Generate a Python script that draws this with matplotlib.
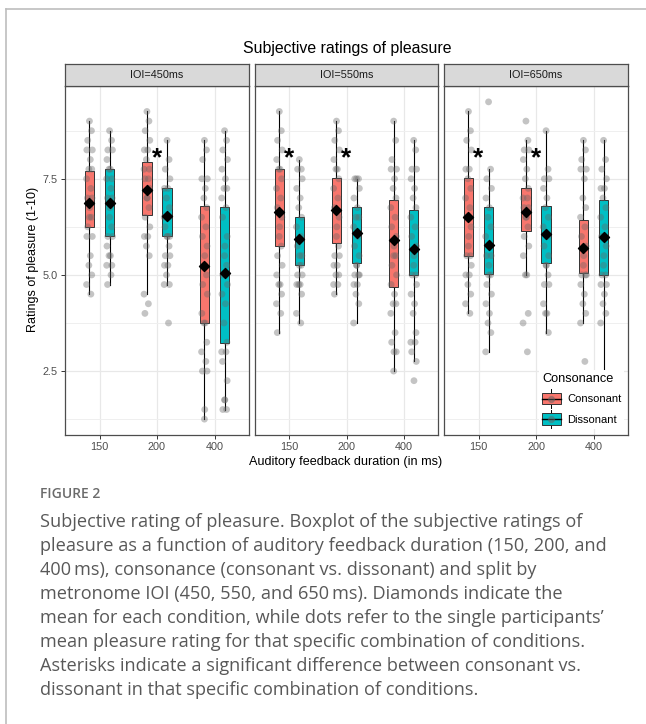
import numpy as np
import matplotlib.pyplot as plt
from matplotlib.patches import Rectangle
from matplotlib.lines import Line2D
from matplotlib.legend_handler import HandlerBase

plt.rcParams['font.family'] = ['Liberation Sans', 'DejaVu Sans']

panel_titles = ['IOI=450ms', 'IOI=550ms', 'IOI=650ms']
durations = ['150', '200', '400']
conditions = ['Consonant', 'Dissonant']
cond_colors = ['#F8766D', '#00BFC4']

# order in each panel: 150 cons, 150 diss, 200 cons, 200 diss, 400 cons, 400 diss
box_q1 = [
    [6.25, 6.00, 6.57, 6.00, 3.74, 3.22],
    [5.76, 5.25, 5.82, 5.31, 4.68, 5.00],
    [5.50, 5.03, 6.14, 5.32, 5.04, 5.00],
]
box_q3 = [
    [7.70, 7.76, 7.94, 7.26, 6.78, 6.76],
    [7.76, 6.50, 7.51, 6.76, 6.94, 6.69],
    [7.51, 6.76, 7.27, 6.78, 6.43, 6.94],
]
whisk_lo = [
    [4.50, 4.75, 4.50, 4.75, 1.25, 1.50],
    [3.50, 3.75, 4.50, 3.75, 2.50, 2.75],
    [4.00, 3.00, 5.00, 3.50, 3.75, 2.25],
]
whisk_hi = [
    [9.00, 8.75, 9.25, 8.50, 8.50, 8.75],
    [9.25, 8.00, 9.00, 7.50, 9.00, 8.50],
    [9.25, 7.75, 8.50, 8.75, 8.50, 8.50],
]
means = [
    [6.88, 6.88, 7.20, 6.53, 5.24, 5.06],
    [6.64, 5.93, 6.69, 6.10, 5.91, 5.67],
    [6.51, 5.78, 6.63, 6.07, 5.70, 5.99],
]

# participant means
ioi450 = [
    [9.0, 8.75, 8.5, 8.25, 8.25, 8.0, 7.75, 7.75, 7.5, 7.25, 7.0, 7.0, 6.75, 6.5, 6.5,
     6.25, 6.0, 6.0, 5.5, 5.25, 5.0, 4.75, 4.5],
    [8.75, 8.5, 8.25, 8.25, 8.0, 7.75, 7.75, 7.5, 7.5, 7.25, 7.0, 7.0, 6.75, 6.5, 6.25,
     6.0, 6.0, 5.75, 5.5, 5.5, 5.25, 5.25, 5.0, 4.75],
    [9.25, 9.0, 8.75, 8.5, 8.25, 8.25, 8.0, 7.75, 7.75, 7.5, 7.5, 7.25, 7.0, 7.0, 6.75,
     6.5, 6.25, 6.0, 6.0, 5.75, 5.5, 4.5, 4.25, 4.0],
    [8.5, 8.0, 7.75, 7.5, 7.25, 7.25, 7.0, 6.75, 6.5, 6.5, 6.25, 6.0, 6.0, 6.0, 5.75,
     5.5, 5.5, 5.25, 5.25, 5.0, 4.75, 4.75, 3.75],
    [8.5, 8.25, 8.0, 7.5, 7.5, 7.25, 7.0, 6.75, 6.5, 6.25, 6.0, 5.75, 5.5, 5.25, 5.0,
     4.75, 4.5, 4.0, 3.75, 3.75, 3.25, 3.0, 2.75, 2.5, 2.5, 1.5, 1.25],
    [8.75, 8.5, 8.25, 8.0, 7.75, 7.5, 7.25, 7.25, 7.0, 6.75, 6.5, 6.0, 5.75, 5.5, 5.25,
     5.0, 4.75, 4.5, 4.25, 3.75, 3.25, 3.0, 3.0, 2.75, 2.25, 1.75, 1.75, 1.5, 1.5],
]
ioi550 = [
    [9.25, 8.75, 8.5, 8.25, 8.0, 7.75, 7.75, 7.5, 7.25, 7.0, 6.75, 6.5, 6.25, 6.0, 5.75,
     5.5, 5.25, 5.0, 4.75, 4.75, 4.5, 4.25, 4.0, 3.5],
    [8.0, 7.75, 7.75, 7.5, 7.25, 7.0, 6.75, 6.5, 6.25, 6.0, 5.75, 5.5, 5.5, 5.25, 5.25,
     5.0, 5.0, 4.75, 4.75, 4.75, 4.5, 4.0, 3.75],
    [9.0, 8.75, 8.5, 8.25, 8.0, 7.75, 7.75, 7.5, 7.25, 7.0, 6.75, 6.5, 6.25, 6.0, 5.75,
     5.5, 5.5, 5.25, 5.25, 5.0, 5.0, 4.75, 4.75, 4.5],
    [7.5, 7.5, 7.5, 7.25, 7.0, 6.75, 6.5, 6.5, 6.25, 6.0, 5.75, 5.5, 5.25, 5.25, 5.0,
     5.0, 5.0, 4.75, 4.75, 4.5, 4.25, 3.75],
    [9.0, 8.5, 8.0, 7.75, 7.75, 7.5, 7.25, 7.0, 6.75, 6.5, 6.25, 6.0, 5.75, 5.5, 5.5,
     5.25, 5.0, 4.75, 4.5, 4.25, 4.25, 4.0, 3.5, 3.25, 3.0, 3.0, 2.5],
    [8.5, 8.25, 7.75, 7.75, 7.5, 7.25, 7.0, 6.75, 6.5, 6.25, 6.0, 5.75, 5.5, 5.25, 5.0,
     5.0, 4.75, 4.5, 4.25, 4.0, 3.5, 3.25, 3.25, 3.0, 2.75, 2.25],
]
ioi650 = [
    [9.25, 8.75, 8.5, 8.25, 7.75, 7.75, 7.5, 7.25, 7.0, 6.75, 6.5, 6.25, 6.0, 5.75, 5.5,
     5.5, 5.25, 5.0, 5.0, 4.75, 4.5, 4.25, 4.0],
    [9.5, 7.75, 7.5, 7.25, 7.0, 6.75, 6.5, 6.25, 6.0, 5.75, 5.5, 5.5, 5.25, 5.0, 5.0,
     4.75, 4.5, 4.25, 4.0, 3.75, 3.5, 3.0],
    [9.0, 8.5, 8.25, 8.25, 8.0, 7.75, 7.5, 7.25, 7.0, 7.0, 6.75, 6.75, 6.5, 6.5, 6.25,
     6.0, 5.75, 5.5, 5.0, 5.0, 4.0, 3.75, 3.0],
    [8.75, 7.75, 7.5, 7.5, 7.25, 7.0, 6.75, 6.5, 6.25, 6.0, 5.75, 5.5, 5.25, 5.25, 5.0,
     4.75, 4.75, 4.25, 4.0, 4.0, 3.5],
    [8.5, 8.25, 8.0, 7.75, 7.75, 7.5, 7.0, 6.75, 6.5, 6.25, 6.0, 5.75, 5.5, 5.25, 5.0,
     5.0, 5.0, 4.75, 4.5, 4.25, 4.0, 3.75, 2.75],
    [8.5, 8.0, 7.75, 7.5, 7.25, 7.25, 7.0, 6.75, 6.5, 6.25, 6.0, 5.75, 5.5, 5.25, 5.0,
     5.0, 4.75, 4.75, 4.5, 4.25, 4.0, 3.75, 2.25],
]
dots = [ioi450, ioi550, ioi650]

# significant consonant vs dissonant differences (panel, duration index)
star_panel = [0, 1, 1, 2, 2]
star_dur = [1, 0, 1, 0, 1]
star_y = 7.86

caption_head = 'FIGURE 2'
caption_lines = [
    'Subjective rating of pleasure. Boxplot of the subjective ratings of',
    'pleasure as a function of auditory feedback duration (150, 200, and',
    '400\u2009ms), consonance (consonant vs. dissonant) and split by',
    'metronome IOI (450, 550, and 650\u2009ms). Diamonds indicate the',
    'mean for each condition, while dots refer to the single participants\u2019',
    'mean pleasure rating for that specific combination of conditions.',
    'Asterisks indicate a significant difference between consonant vs.',
    'dissonant in that specific combination of conditions.',
]

W, H = 646, 724


def fx(px):
    return px / W


def fy(py):
    return 1 - py / H


class BoxKey(HandlerBase):
    def create_artists(self, legend, orig_handle, xdescent, ydescent,
                       width, height, fontsize, trans):
        x0, y0 = -xdescent, -ydescent
        cx, cy = x0 + width / 2, y0 + height / 2
        whisk = Line2D([cx, cx], [y0 - 1.5, y0 + height + 1.5], color='black',
                       lw=0.7, transform=trans)
        box = Rectangle((x0, y0 + height * 0.08), width, height * 0.84,
                        facecolor=orig_handle.get_facecolor(), edgecolor='#333333',
                        lw=0.7, transform=trans)
        med = Line2D([x0, x0 + width], [cy, cy], color='black', lw=1.0, transform=trans)
        dot = Line2D([cx], [cy], marker='o', ms=4.2, color='#666666', alpha=0.45,
                     lw=0, transform=trans)
        return [whisk, box, med, dot]


fig = plt.figure(figsize=(W / 100, H / 100), dpi=100)

# page frame from the article screenshot
fig.add_artist(Line2D([fx(6), 1], [fy(9), fy(9)], color='#bdbdbd', lw=1.2))
fig.add_artist(Line2D([fx(6), fx(6)], [fy(9), 0], color='#bdbdbd', lw=1.2))

panel_x = [(65, 249), (255, 438), (444, 628)]
p_top, p_bot, s_top = 86, 435, 64
dodge = 0.175
box_w = 0.165
jit = [0.0, 0.035, -0.03, 0.05, -0.045, 0.015, -0.01, 0.04, -0.05, 0.025, -0.035, 0.045, 0.005]
edge = '#4d4d4d'

axes = []
for p in range(3):
    x0, x1 = panel_x[p]
    ax = fig.add_axes([fx(x0), fy(p_bot), (x1 - x0) / W, (p_bot - p_top) / H])
    axes.append(ax)
    ax.set_xlim(0.4, 3.6)
    ax.set_ylim(0.8375, 9.9125)
    ax.set_xticks([1, 2, 3])
    ax.set_xticklabels(durations)
    ax.set_yticks([2.5, 5.0, 7.5])
    ax.set_yticks([1.25, 3.75, 6.25, 8.75], minor=True)
    ax.set_yticklabels(['2.5', '5.0', '7.5'])
    ax.grid(True, which='major', color='#e8e8e8', lw=0.9, zorder=0)
    ax.grid(True, which='minor', axis='y', color='#efefef', lw=0.7, zorder=0)
    ax.set_axisbelow(True)
    ax.tick_params(axis='both', which='major', length=3, width=0.7, color='#333333',
                   labelsize=7.8, labelcolor='#4d4d4d', pad=2)
    ax.tick_params(axis='y', which='minor', length=0)
    if p > 0:
        ax.tick_params(axis='y', which='major', left=False, labelleft=False)
    for s in ax.spines.values():
        s.set_color(edge)
        s.set_linewidth(0.9)

    stats = []
    pos = []
    for i in range(6):
        d, c = divmod(i, 2)
        pos.append(d + 1 + (c - 0.5) * 2 * dodge)
        stats.append({'med': means[p][i], 'q1': box_q1[p][i], 'q3': box_q3[p][i],
                      'whislo': whisk_lo[p][i], 'whishi': whisk_hi[p][i], 'fliers': []})
    bp = ax.bxp(stats, positions=pos, widths=box_w, patch_artist=True, showcaps=False,
                showfliers=False, manage_ticks=False,
                boxprops=dict(edgecolor='#333333', linewidth=0.7),
                whiskerprops=dict(color='black', linewidth=0.8),
                medianprops=dict(color='black', linewidth=1.0))
    for i, b in enumerate(bp['boxes']):
        b.set_facecolor(cond_colors[i % 2])
        b.set_zorder(2)
    for w in bp['whiskers']:
        w.set_zorder(1.5)
    for m in bp['medians']:
        m.set_zorder(4)

    for i in range(6):
        vals = dots[p][i]
        xs = [pos[i] + jit[k % len(jit)] for k in range(len(vals))]
        ax.scatter(xs, vals, s=24, color='#666666', alpha=0.38, edgecolors='none', zorder=3)
    ax.scatter(pos, means[p], marker='D', s=26, color='black', zorder=5)

    # strip
    sx = fig.add_axes([fx(x0), fy(p_top), (x1 - x0) / W, (p_top - s_top) / H])
    sx.set_facecolor('#d9d9d9')
    sx.set_xticks([])
    sx.set_yticks([])
    for s in sx.spines.values():
        s.set_color(edge)
        s.set_linewidth(0.9)
    sx.text(0.5, 0.5, panel_titles[p], ha='center', va='center', fontsize=7.8,
            color='#1a1a1a', transform=sx.transAxes)

for p, d in zip(star_panel, star_dur):
    axes[p].text(d + 1, star_y, '*', ha='center', va='baseline', fontsize=19,
                 fontweight='bold', color='black', zorder=6)

handles = [Rectangle((0, 0), 1, 1, facecolor=c) for c in cond_colors]
leg = axes[2].legend(handles, conditions, handler_map={Rectangle: BoxKey()},
                     title='Consonance', title_fontsize=9.2, fontsize=8,
                     loc='upper left', bbox_to_anchor=(fx(533), fy(364)),
                     bbox_transform=fig.transFigure, frameon=True, fancybox=False,
                     edgecolor='none', facecolor='white', framealpha=1,
                     handlelength=1.7, handleheight=1.55, handletextpad=0.55,
                     labelspacing=0.6, borderpad=0.3, alignment='left')
leg.set_zorder(10)

fig.text(fx(347), fy(48), 'Subjective ratings of pleasure', ha='center', va='center',
         fontsize=11.4, color='black')
fig.text(fx(346), fy(462), 'Auditory feedback duration (in ms)', ha='center',
         va='center', fontsize=9.1, color='black')
fig.text(fx(33), fy(259), 'Ratings of pleasure (1-10)', ha='center', va='center',
         rotation=90, fontsize=9.0, color='black')

fig.text(fx(40), fy(494), caption_head, ha='left', va='center', fontsize=10,
         color='#6b6b6b', family=['Open Sans', 'DejaVu Sans'], fontweight='semibold')
for k, line in enumerate(caption_lines):
    fig.text(fx(40), fy(522 + 24 * k), line, ha='left', va='center', fontsize=13.1,
             color='#585858', family=['Open Sans', 'DejaVu Sans'])

fig.savefig('out.png', dpi=100)
